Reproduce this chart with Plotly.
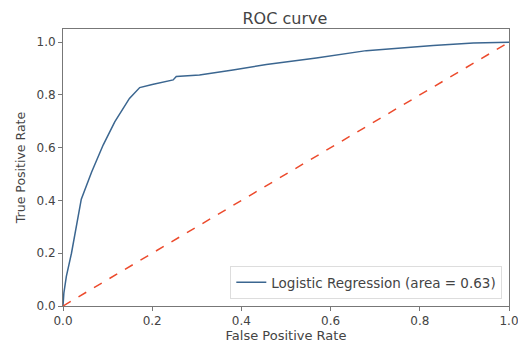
import plotly.graph_objects as go

fpr = [0.0, 0.002, 0.0075, 0.019, 0.041, 0.064, 0.09, 0.116, 0.149, 0.172, 0.2,
       0.247, 0.254, 0.306, 0.381, 0.456, 0.568, 0.68, 0.83, 0.92, 1.0]
tpr = [0.0, 0.05, 0.112, 0.2, 0.405, 0.507, 0.61, 0.698, 0.787, 0.828, 0.84,
       0.857, 0.87, 0.876, 0.895, 0.915, 0.94, 0.968, 0.987, 0.997, 1.0]
diag = [0.0, 1.0]
ticks = [0.0, 0.2, 0.4, 0.6, 0.8, 1.0]
tick_text = ["0.0", "0.2", "0.4", "0.6", "0.8", "1.0"]
roc_auc = 0.63

fig = go.Figure()
fig.add_trace(go.Scatter(x=fpr, y=tpr, mode="lines",
                         line=dict(color="#3b6690", width=1.5),
                         name=f"Logistic Regression (area = {roc_auc:.2f})"))
fig.add_trace(go.Scatter(x=diag, y=diag, mode="lines",
                         line=dict(color="#ec4a2c", width=1.5, dash="dash"),
                         showlegend=False))

axis_common = dict(showgrid=False, zeroline=False, showline=True, mirror=True,
                   linecolor="#777", linewidth=1, ticks="outside", ticklen=4,
                   tickcolor="#777", tickfont=dict(size=12, color="#444"),
                   tickvals=ticks, ticktext=tick_text, automargin=False,
                   ticklabeloverflow="allow")

fig.update_layout(
    width=518, height=346,
    margin=dict(l=63, r=9, t=29, b=40),
    paper_bgcolor="white", plot_bgcolor="white",
    font=dict(family="DejaVu Sans", color="#444"),
    title=dict(text="ROC curve", x=0.55, xanchor="center", y=0.948, yanchor="middle",
               font=dict(size=16, color="#444")),
    xaxis=dict(range=[0, 1.0], title=dict(text="False Positive Rate", standoff=3,
                                          font=dict(size=13, color="#444")), **axis_common),
    yaxis=dict(range=[0, 1.05], title=dict(text="True Positive Rate", standoff=8,
                                           font=dict(size=12.5, color="#444")), **axis_common),
    legend=dict(x=0.985, y=0.025, xanchor="right", yanchor="bottom",
                bgcolor="rgba(255,255,255,0.8)", bordercolor="#ddd", borderwidth=1,
                font=dict(size=13.5, color="#444"), itemwidth=30, tracegroupgap=0),
)

fig.write_html("out.html", config={"displayModeBar": False},
               post_script="document.body.style.margin='0';document.body.style.overflow='hidden';")
